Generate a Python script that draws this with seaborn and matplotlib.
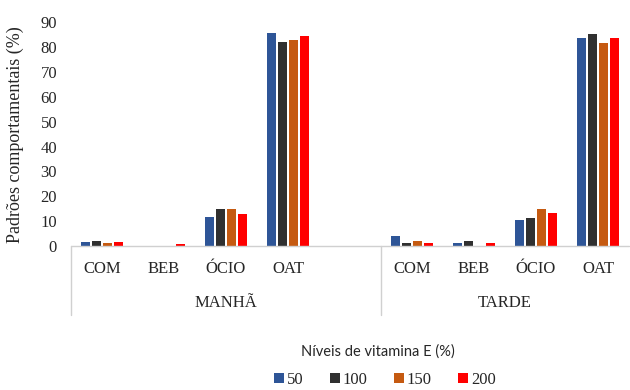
import pandas as pd
import numpy as np
import matplotlib.pyplot as plt
import seaborn as sns
from matplotlib.patches import Patch

# periods / behaviours (MANHÃ has an empty 5th slot on the category axis)
periods = ["MANHÃ", "TARDE"]
behaviours = ["COM", "BEB", "ÓCIO", "OAT"]
levels = ["50", "100", "150", "200"]
colors = ["#2E5597", "#303030", "#C55A11", "#FF0000"]

# values, one list per vitamin E level (COM, BEB, ÓCIO, OAT)
manha_50 = [1.5, 0.0, 11.8, 85.7]
manha_100 = [2.2, 0.0, 14.8, 81.9]
manha_150 = [1.3, 0.0, 15.0, 82.7]
manha_200 = [1.8, 0.9, 12.9, 84.5]
tarde_50 = [4.2, 1.3, 10.5, 83.7]
tarde_100 = [1.1, 2.1, 11.3, 85.4]
tarde_150 = [2.2, 0.0, 14.7, 81.8]
tarde_200 = [1.4, 1.4, 13.3, 83.7]

series = {
    "MANHÃ": [manha_50, manha_100, manha_150, manha_200],
    "TARDE": [tarde_50, tarde_100, tarde_150, tarde_200],
}

rows = []
for p in periods:
    for lev, vals in zip(levels, series[p]):
        for b, v in zip(behaviours, vals):
            rows.append({"slot": p + "|" + b, "nivel": lev, "valor": v})
df = pd.DataFrame(rows)

order = [f"MANHÃ|{b}" for b in behaviours] + ["MANHÃ|"] + [f"TARDE|{b}" for b in behaviours]
tick_text = behaviours + [""] + behaviours

sns.set_style("white")
serif = ["Liberation Serif", "DejaVu Serif"]
plt.rcParams["font.family"] = serif

fig = plt.figure(figsize=(6.3, 3.9), dpi=100)
ax = fig.add_axes([71 / 630, 144 / 390, 558 / 630, 223.7 / 390])

sns.barplot(data=df, x="slot", y="valor", hue="nivel", order=order, hue_order=levels,
            palette=colors, saturation=1, width=0.7, gap=0.15, errorbar=None,
            linewidth=0, legend=False, ax=ax)

ax.set_xlim(-0.5, 8.5)
ax.set_ylim(0, 90)
ax.set_yticks(range(0, 91, 10))
ax.tick_params(axis="y", length=0, pad=10, labelsize=12)
ax.set_xticks(range(len(order)))
ax.set_xticklabels(tick_text)
ax.tick_params(axis="x", length=0, pad=11, labelsize=12)
for lab in ax.get_xticklabels() + ax.get_yticklabels():
    lab.set_family(serif)
ax.set_xlabel("")
ax.set_ylabel("Padrões comportamentais (%)", fontsize=13, labelpad=12, family=serif)
for s in ax.spines.values():
    s.set_visible(False)

# category axis lines (Excel style multi-level)
ax.plot([-0.5, 8.5], [0, 0], color="#D0D0D0", lw=1, clip_on=False,
        transform=ax.get_xaxis_transform())
for xd in [-0.5, 4.5]:
    ax.plot([xd, xd], [0, -0.31], color="#D0D0D0", lw=1, clip_on=False,
            transform=ax.get_xaxis_transform())
ax.text(2.0, -0.255, "MANHÃ", ha="center", va="center", fontsize=12, family=serif,
        transform=ax.get_xaxis_transform())
ax.text(6.5, -0.255, "TARDE", ha="center", va="center", fontsize=12, family=serif,
        transform=ax.get_xaxis_transform())

fig.text(378 / 630, 1 - 352 / 390, "Níveis de vitamina E (%)", ha="center", va="center",
         fontsize=10.5, family=["Lato", "DejaVu Sans"])
handles = [Patch(facecolor=c, edgecolor="none") for c in colors]
fig.legend(handles, levels, loc="center", bbox_to_anchor=(385 / 630, 1 - 380 / 390),
           ncol=4, frameon=False, prop={"family": serif, "size": 12},
           handlelength=0.6, handleheight=0.6, handletextpad=0.15, columnspacing=1.6)

fig.savefig("out.png", dpi=100)
